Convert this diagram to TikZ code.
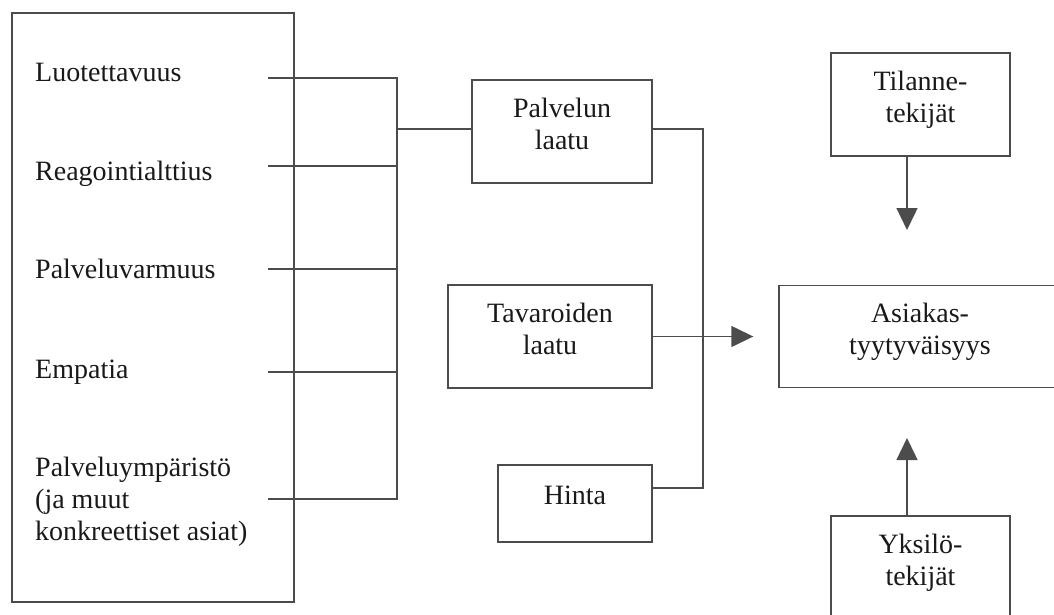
\documentclass[tikz,border=0pt]{standalone}
\usepackage{fontspec}
\setmainfont{Liberation Serif}
\usetikzlibrary{arrows.meta}

% extra depth under the last line, lifts the text a little in its box
\newcommand{\padbottom}{\rule[-16pt]{0pt}{16pt}}

\tikzset{
  frame/.style={draw=black!70, line width=1.4pt},
  box/.style={frame, align=center, inner sep=0pt, text=black!90},
  factor/.style={anchor=base west, inner sep=0pt, align=left, text=black!90},
  link/.style={draw=black!70, line width=1.4pt},
  arr/.style={link, -{Triangle[length=22pt, width=21pt]}}
}

\begin{document}
\begin{tikzpicture}[x=1pt, y=-1pt, font=\fontsize{28}{32}\selectfont]
  % Fix the page to the size of the picture
  \useasboundingbox (0,0) rectangle (1054,615);
  \clip (0,0) rectangle (1054,615);

  % Frame round the quality factors
  \node[frame, minimum width=282pt, minimum height=589pt] (factors) at (153,307.5) {};
  % Quality factors
  \node[factor] (f1) at (35,82) {Luotettavuus};
  \node[factor] (f2) at (35,180) {Reagointialttius};
  \node[factor] (f3) at (35,278.5) {Palveluvarmuus};
  \node[factor] (f4) at (35,378.5) {Empatia};
  \node[factor] (f5) at (35,540.5) {Palveluympäristö\\(ja muut\\konkreettiset asiat)};

  % Middle boxes
  \node[box, minimum width=180pt, minimum height=103pt] (palvelu) at (562,131.5) {Palvelun\\laatu\padbottom};
  \node[box, minimum width=204pt, minimum height=103pt] (tavara) at (550,336.5) {Tavaroiden\\laatu\padbottom};
  \node[box, minimum width=154pt, minimum height=77pt] (hinta) at (575,503.5) {Hinta\padbottom};

  % Right boxes
  \node[box, minimum width=282pt, minimum height=102pt] (asiakas) at (920,336.5) {Asiakas-\\tyytyväisyys\padbottom};
  \node[box, minimum width=179pt, minimum height=103pt] (tilanne) at (920.5,104.5) {Tilanne-\\tekijät\padbottom};
  \node[box, minimum width=179pt, minimum height=103pt] (yksilo) at (920.5,567.5) {Yksilö-\\tekijät\padbottom};

  % Lines from the factors to the junction
  \coordinate (s1) at (268,78);
  \coordinate (s2) at (268,166);
  \coordinate (s3) at (268,269);
  \coordinate (s4) at (268,372);
  \coordinate (s5) at (268,499);
  \coordinate (jn) at (397,129);
  \draw[link] (s1) -- (s1 -| jn) -- (s5 -| jn) -- (s5);
  \draw[link] (s2) -- (s2 -| jn);
  \draw[link] (s3) -- (s3 -| jn);
  \draw[link] (s4) -- (s4 -| jn);
  \draw[link] (jn) -- (jn -| palvelu.west);

  % Bus on the right of the middle boxes
  \coordinate (bt) at (703,129);
  \coordinate (bb) at (703,488);
  \draw[link] (bt -| palvelu.east) -- (bt) -- (bb) -- (bb -| hinta.east);

  % Arrows into customer satisfaction
  \draw[arr, shorten >=25pt] (tavara.east) -- (asiakas.west);
  \coordinate (t1) at (907,230);
  \draw[arr] (tilanne.south -| t1) -- (t1);
  \coordinate (t2) at (907,438);
  \draw[arr] (yksilo.north -| t2) -- (t2);
\end{tikzpicture}
\end{document}
